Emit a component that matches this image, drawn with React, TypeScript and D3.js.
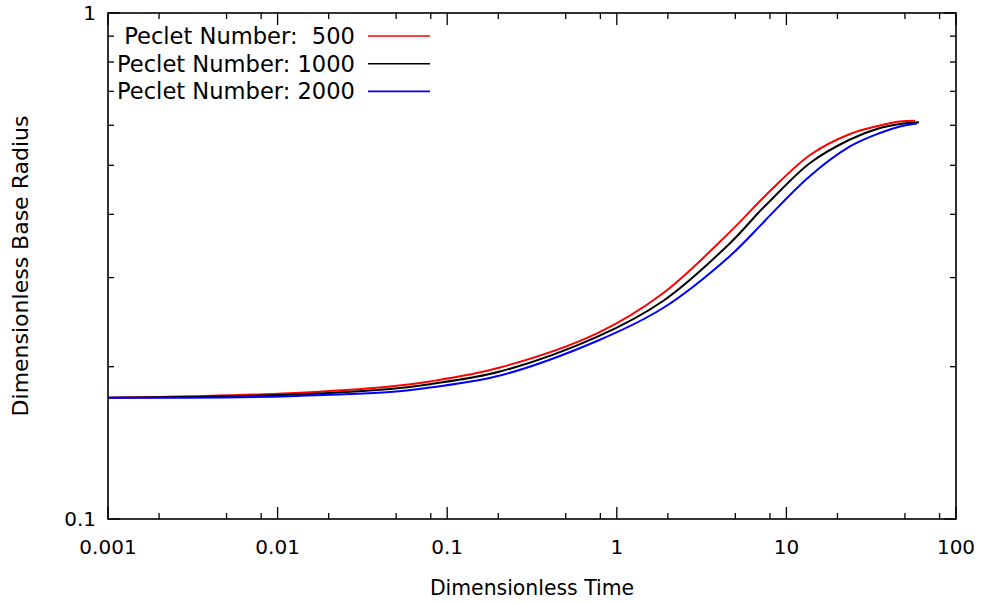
import { useEffect, useRef } from 'react';
import * as d3 from 'd3';

// sample times shared by the three runs (last point differs per run)
const times = [0.001, 0.003044, 0.01183, 0.046, 0.07918, 0.2048, 0.7644, 1.873, 4.651, 6.988, 8.004, 13.78, 23.71, 35.63, 46.75];
const endTimes = [57.33, 60.5, 58.88];

// Peclet 500
const radiusRed = [0.1737, 0.1748, 0.1772, 0.1827, 0.187, 0.1992, 0.2327, 0.2793, 0.3693, 0.425, 0.4448, 0.5241, 0.5767, 0.5994, 0.6104, 0.6127];
// Peclet 1000
const radiusBlack = [0.1737, 0.1742, 0.176, 0.1807, 0.1847, 0.1956, 0.229, 0.2697, 0.3508, 0.4061, 0.425, 0.5053, 0.5623, 0.5927, 0.6036, 0.6083];
// Peclet 2000
const radiusBlue = [0.1737, 0.1737, 0.1749, 0.1782, 0.1819, 0.1921, 0.2248, 0.2612, 0.3311, 0.3795, 0.3981, 0.4764, 0.5448, 0.5793, 0.5967, 0.605];

const legendLabels = ['Peclet Number:  500', 'Peclet Number: 1000', 'Peclet Number: 2000'];
const seriesColors = ['#ff0000', '#000000', '#0000ff'];
const xMajorTicks = [0.001, 0.01, 0.1, 1, 10, 100];
const xTickLabels = ['0.001', '0.01', '0.1', '1', '10', '100'];
const yMajorTicks = [0.1, 1];
const yTickLabels = ['0.1', '1'];

export default function App() {
  const svgRef = useRef<SVGSVGElement | null>(null);

  useEffect(() => {
    if (!svgRef.current) return;
    const svg = d3.select(svgRef.current);
    svg.selectAll('*').remove();

    const width = 984;
    const height = 603;
    const left = 108, right = 956, top = 13, bottom = 519;
    const font = 'DejaVu Sans, sans-serif';

    const x = d3.scaleLog().domain([0.001, 100]).range([left, right]);
    const y = d3.scaleLog().domain([0.1, 1]).range([bottom, top]);

    svg.attr('width', width).attr('height', height);

    // minor ticks: x at 2,5,8 per decade, y at 2..9
    const xMinor: number[] = [];
    for (let d = -3; d < 2; d++) [2, 5, 8].forEach((m) => xMinor.push(m * Math.pow(10, d)));
    const yMinor = [0.2, 0.3, 0.4, 0.5, 0.6, 0.7, 0.8, 0.9];

    const ticks = svg.append('g').attr('stroke', '#000').attr('stroke-width', 1.3);
    const addX = (vals: number[], len: number) => {
      vals.forEach((v) => {
        ticks.append('line').attr('x1', x(v)).attr('x2', x(v)).attr('y1', bottom).attr('y2', bottom - len);
        ticks.append('line').attr('x1', x(v)).attr('x2', x(v)).attr('y1', top).attr('y2', top + len);
      });
    };
    const addY = (vals: number[], len: number) => {
      vals.forEach((v) => {
        ticks.append('line').attr('x1', left).attr('x2', left + len).attr('y1', y(v)).attr('y2', y(v));
        ticks.append('line').attr('x1', right).attr('x2', right - len).attr('y1', y(v)).attr('y2', y(v));
      });
    };
    addX(xMajorTicks, 12);
    addX(xMinor, 6);
    addY(yMajorTicks, 12);
    addY(yMinor, 6);

    // curves
    const line = d3
      .line<[number, number]>()
      .x((d) => x(d[0]))
      .y((d) => y(d[1]))
      .curve(d3.curveCatmullRom.alpha(0.5));

    const radii = [radiusRed, radiusBlack, radiusBlue];
    radii.forEach((r, k) => {
      const t = [...times, endTimes[k]];
      svg
        .append('path')
        .datum(t.map((tv, i) => [tv, r[i]] as [number, number]))
        .attr('fill', 'none')
        .attr('stroke', seriesColors[k])
        .attr('stroke-width', 2)
        .attr('stroke-linejoin', 'round')
        .attr('d', line);
    });

    // frame
    svg
      .append('rect')
      .attr('x', left)
      .attr('y', top)
      .attr('width', right - left)
      .attr('height', bottom - top)
      .attr('fill', 'none')
      .attr('stroke', '#000')
      .attr('stroke-width', 1.6);

    // tick labels
    svg
      .selectAll('.xlab')
      .data(xMajorTicks)
      .join('text')
      .attr('x', (d) => x(d))
      .attr('y', 554)
      .attr('text-anchor', 'middle')
      .attr('font-family', font)
      .attr('font-size', 20)
      .attr('fill', '#000')
      .text((d, i) => xTickLabels[i]);

    svg
      .selectAll('.ylab')
      .data(yMajorTicks)
      .join('text')
      .attr('x', 96)
      .attr('y', (d) => y(d) + 7)
      .attr('text-anchor', 'end')
      .attr('font-family', font)
      .attr('font-size', 20)
      .attr('fill', '#000')
      .text((d, i) => yTickLabels[i]);

    // axis titles
    svg
      .append('text')
      .attr('x', 532)
      .attr('y', 595)
      .attr('text-anchor', 'middle')
      .attr('font-family', font)
      .attr('font-size', 20.4)
      .attr('fill', '#000')
      .text('Dimensionless Time');

    svg
      .append('text')
      .attr('transform', 'translate(28,266) rotate(-90)')
      .attr('text-anchor', 'middle')
      .attr('font-family', font)
      .attr('font-size', 22)
      .attr('fill', '#000')
      .text('Dimensionless Base Radius');

    // legend
    const legend = svg.append('g');
    legendLabels.forEach((label, i) => {
      const ly = 36 + i * 27.7;
      legend
        .append('text')
        .attr('x', 355)
        .attr('y', ly + 8)
        .attr('text-anchor', 'end')
        .attr('font-family', font)
        .attr('font-size', 22.6)
        .attr('fill', '#000')
        .style('white-space', 'pre')
        .text(label);
      legend
        .append('line')
        .attr('x1', 368)
        .attr('x2', 430)
        .attr('y1', ly)
        .attr('y2', ly)
        .attr('stroke', seriesColors[i])
        .attr('stroke-width', 1.6);
    });
  }, []);

  return (
    <div style={{ position: 'absolute', left: 0, top: 0 }}>
      <svg ref={svgRef}></svg>
    </div>
  );
}
